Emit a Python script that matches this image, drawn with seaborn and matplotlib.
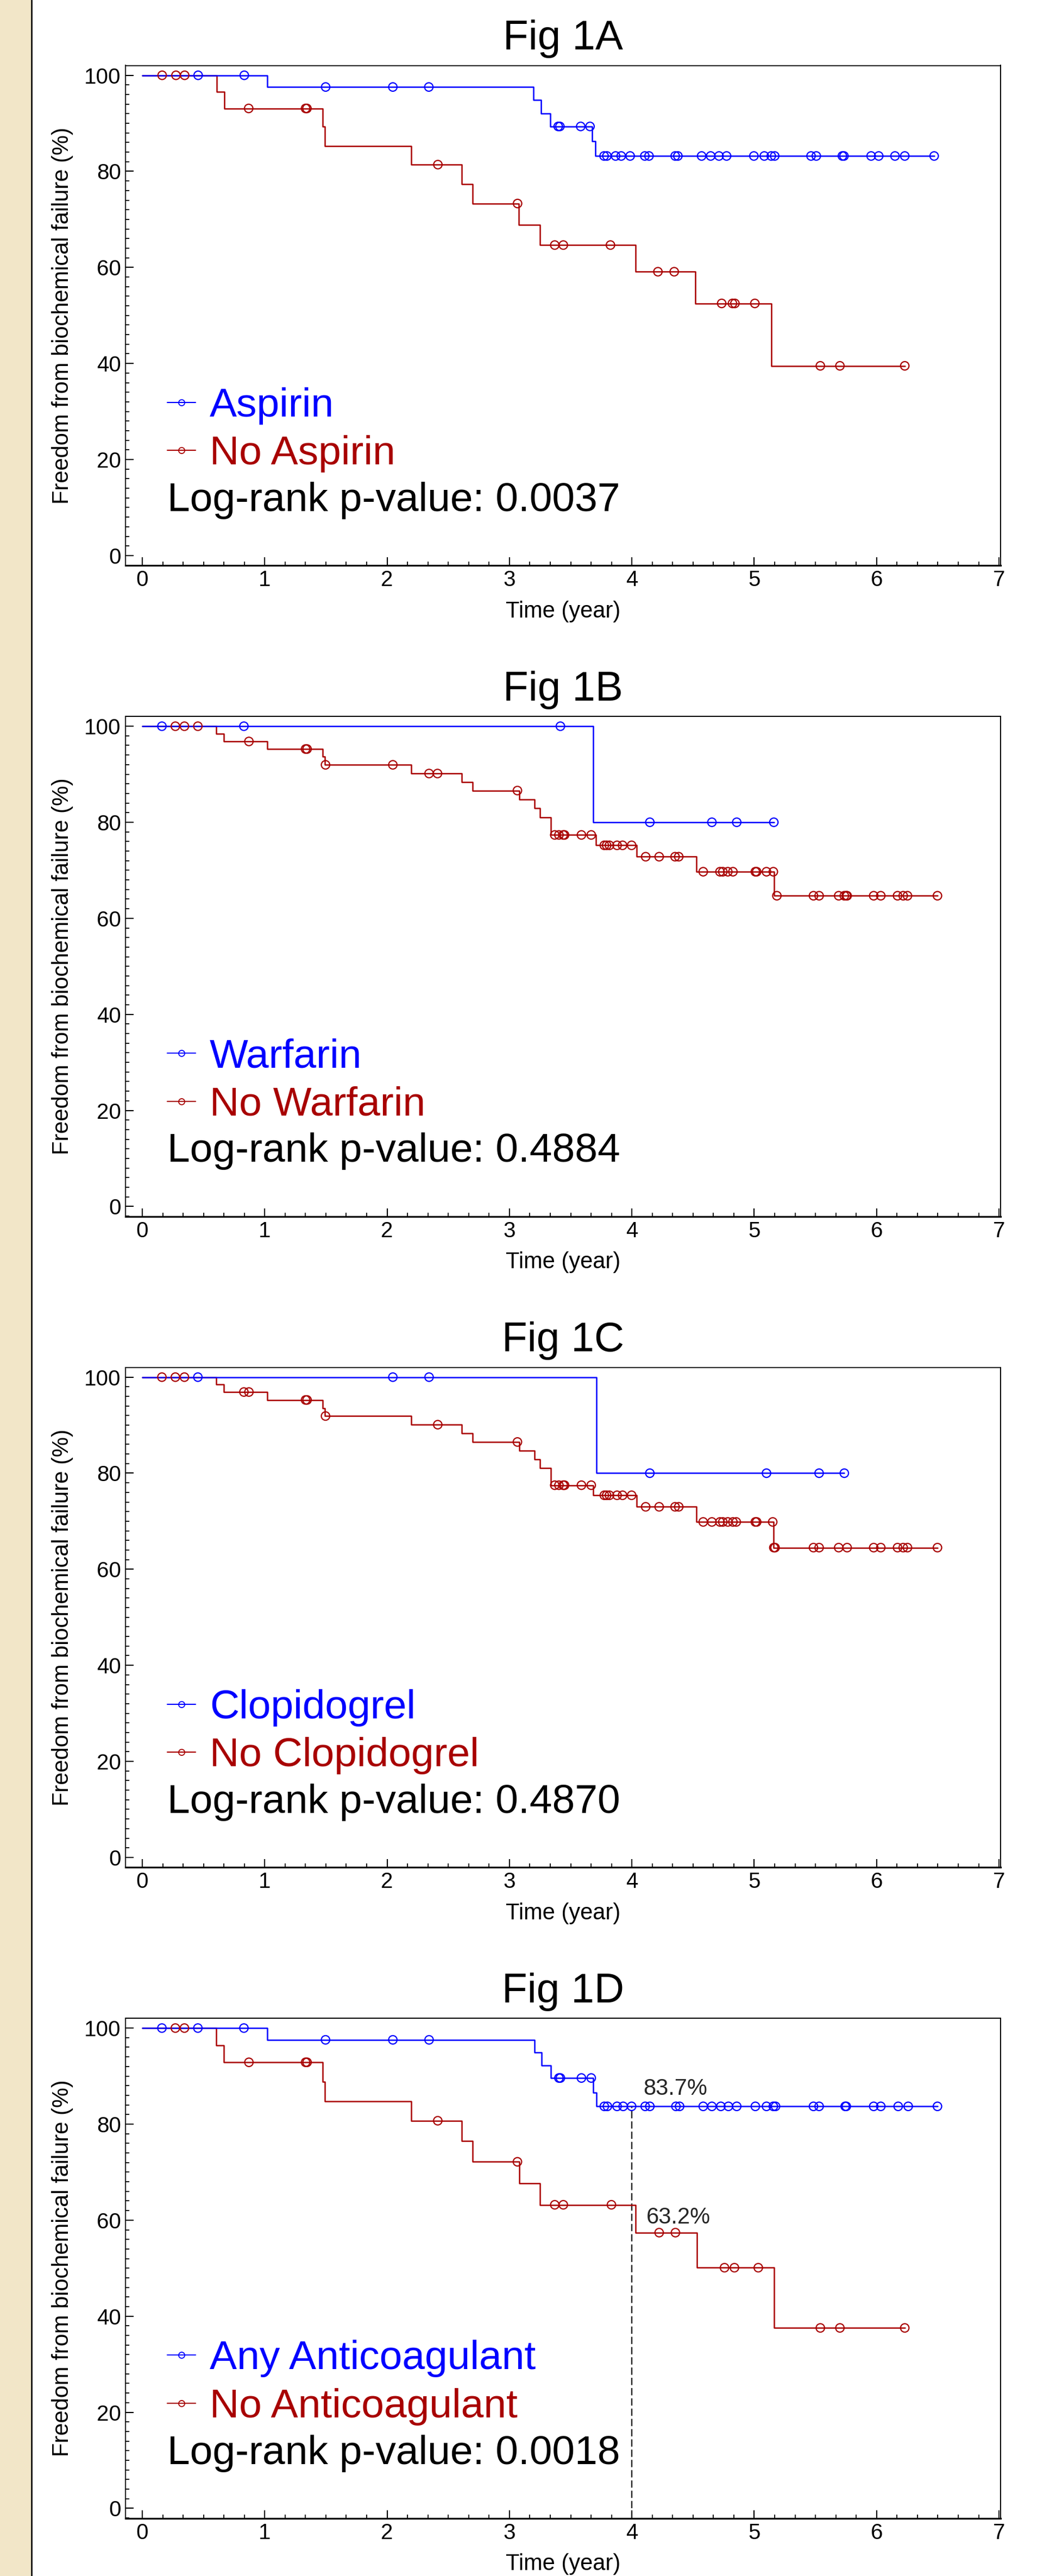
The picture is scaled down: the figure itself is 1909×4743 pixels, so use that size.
import numpy as np
import matplotlib.pyplot as plt
import seaborn as sns
from matplotlib.lines import Line2D
from matplotlib.patches import Rectangle
from matplotlib.ticker import MultipleLocator

# ----------------------------
# DATA
# time in years, freedom from failure in %
# ----------------------------
panel_titles = ["Fig 1A", "Fig 1B", "Fig 1C", "Fig 1D"]
group_labels = [("Aspirin", "No Aspirin"),
                ("Warfarin", "No Warfarin"),
                ("Clopidogrel", "No Clopidogrel"),
                ("Any Anticoagulant", "No Anticoagulant")]
p_values = ["0.0037", "0.4884", "0.4870", "0.0018"]

# Fig 1A
aspirin_event_t = [1.022, 3.196, 3.258, 3.335, 3.675, 3.700]
aspirin_event_s = [97.56, 94.87, 92.04, 89.35, 86.30, 83.20]
aspirin_censor_t = [0.456, 0.833, 1.498, 2.047, 2.341, 3.398, 3.412, 3.582, 3.658,
                    3.773, 3.796, 3.867, 3.913, 3.986, 4.106, 4.140, 4.354, 4.376,
                    4.570, 4.644, 4.712, 4.774, 4.997, 5.082, 5.139, 5.167, 5.464,
                    5.507, 5.720, 5.733, 5.955, 6.017, 6.150, 6.230, 6.470]
no_aspirin_event_t = [0.609, 0.671, 1.472, 1.492, 2.197, 2.610, 2.698, 3.077, 3.247,
                      4.032, 4.519, 5.142]
no_aspirin_event_s = [96.6, 93.1, 89.3, 85.3, 81.4, 77.3, 73.3, 68.9, 64.65,
                      59.1, 52.5, 39.5]
no_aspirin_censor_t = [0.162, 0.275, 0.346, 0.869, 1.334, 1.345, 2.415, 3.066, 3.370,
                       3.440, 3.825, 4.213, 4.346, 4.734, 4.822, 4.842, 5.005, 5.540,
                       5.700, 6.230]

# Fig 1B
warfarin_event_t = [3.684]
warfarin_event_s = [80.0]
warfarin_censor_t = [0.160, 0.830, 3.416, 4.147, 4.654, 4.857, 5.160]
no_warfarin_event_t = [0.603, 0.665, 1.023, 1.474, 1.490, 2.196, 2.609, 2.700, 3.079,
                       3.203, 3.251, 3.340, 3.707, 4.039, 4.527, 5.162]
no_warfarin_event_s = [98.45, 96.83, 95.25, 93.66, 91.96, 90.15, 88.34, 86.6, 84.75,
                       82.9, 81.0, 77.36, 75.2, 72.83, 69.7, 64.7]
no_warfarin_censor_t = [0.270, 0.344, 0.454, 0.871, 1.334, 1.346, 1.497, 2.047, 2.343,
                        2.412, 3.065, 3.370, 3.404, 3.439, 3.450, 3.588, 3.668, 3.775,
                        3.794, 3.817, 3.879, 3.924, 3.998, 4.113, 4.223, 4.353, 4.383,
                        4.583, 4.720, 4.743, 4.784, 4.826, 5.009, 5.020, 5.100, 5.156,
                        5.185, 5.484, 5.530, 5.690, 5.736, 5.752, 5.759, 5.976, 6.034,
                        6.171, 6.217, 6.252, 6.497]

# Fig 1C
clopidogrel_event_t = [3.711]
clopidogrel_event_s = [80.0]
clopidogrel_censor_t = [0.454, 2.047, 2.343, 4.147, 5.100, 5.530, 5.736]
no_clopidogrel_event_t = [0.603, 0.665, 1.023, 1.474, 1.490, 2.196, 2.609, 2.700, 3.079,
                          3.203, 3.251, 3.340, 3.684, 4.039, 4.527, 5.158]
no_clopidogrel_event_s = [98.45, 96.9, 95.25, 93.55, 91.9, 90.1, 88.3, 86.5, 84.7,
                          82.9, 81.1, 77.5, 75.4, 73.0, 69.85, 64.5]
no_clopidogrel_censor_t = [0.160, 0.270, 0.344, 0.830, 0.871, 1.334, 1.346, 1.497, 2.414,
                           3.065, 3.370, 3.404, 3.439, 3.450, 3.588, 3.668, 3.775, 3.794,
                           3.817, 3.879, 3.924, 3.998, 4.113, 4.223, 4.353, 4.383, 4.583,
                           4.654, 4.720, 4.743, 4.784, 4.826, 4.853, 5.009, 5.020, 5.151,
                           5.160, 5.170, 5.484, 5.530, 5.690, 5.759, 5.976, 6.034, 6.171,
                           6.217, 6.252, 6.497]

# Fig 1D
anticoag_event_t = [1.023, 3.203, 3.261, 3.340, 3.684, 3.711]
anticoag_event_s = [97.55, 94.87, 92.26, 89.6, 86.6, 83.7]
anticoag_censor_t = [0.160, 0.454, 0.830, 1.497, 2.047, 2.343, 3.404, 3.416, 3.588,
                     3.668, 3.775, 3.800, 3.879, 3.929, 3.998, 4.109, 4.147, 4.360,
                     4.390, 4.583, 4.654, 4.727, 4.789, 4.857, 5.009, 5.100, 5.156,
                     5.174, 5.484, 5.530, 5.743, 5.752, 5.976, 6.034, 6.176, 6.258,
                     6.497]
no_anticoag_event_t = [0.603, 0.665, 1.474, 1.490, 2.196, 2.609, 2.700, 3.079, 3.251,
                       4.032, 4.530, 5.162]
no_anticoag_event_s = [96.4, 92.87, 88.8, 84.7, 80.7, 76.5, 72.15, 67.7, 63.2,
                       57.4, 50.1, 37.56]
no_anticoag_censor_t = [0.270, 0.344, 0.871, 1.334, 1.346, 2.414, 3.065, 3.370, 3.440,
                        3.833, 4.223, 4.356, 4.757, 4.838, 5.033, 5.540, 5.700, 6.230]

# Fig 1D landmark at 4 years
landmark_time = 4.0
landmark_values = [83.7, 63.2]
landmark_labels = ["83.7%", "63.2%"]

events_t = [(aspirin_event_t, no_aspirin_event_t),
            (warfarin_event_t, no_warfarin_event_t),
            (clopidogrel_event_t, no_clopidogrel_event_t),
            (anticoag_event_t, no_anticoag_event_t)]
events_s = [(aspirin_event_s, no_aspirin_event_s),
            (warfarin_event_s, no_warfarin_event_s),
            (clopidogrel_event_s, no_clopidogrel_event_s),
            (anticoag_event_s, no_anticoag_event_s)]
censors_t = [(aspirin_censor_t, no_aspirin_censor_t),
             (warfarin_censor_t, no_warfarin_censor_t),
             (clopidogrel_censor_t, no_clopidogrel_censor_t),
             (anticoag_censor_t, no_anticoag_censor_t)]

# ----------------------------
# STYLE
# ----------------------------
sns.set_theme(style="ticks")
plt.rcParams["font.family"] = ["Liberation Sans", "DejaVu Sans"]

BLUE = "#0000FF"
RED = "#A80000"
colors = [BLUE, RED]
YLIM = (-2.05, 102.05)

W, H = 1909, 4743
fig = plt.figure(figsize=(W / 100, H / 100), dpi=100)
fig.patch.set_facecolor("white")

# beige strip with black edge at the left
fig.patches.append(Rectangle((0, 0), 56.7 / W, 1, transform=fig.transFigure,
                             color="#F2E6C8", zorder=0))
fig.add_artist(Line2D([58 / W, 58 / W], [0, 1], transform=fig.transFigure,
                      color="black", lw=1.9))


def km_steps(event_t, event_s, censor_t):
    t = np.concatenate([[0.0], event_t])
    s = np.concatenate([[100.0], event_s])
    t_end = max(max(censor_t), t[-1])
    line_t = np.append(t, t_end)
    line_s = np.append(s, s[-1])
    idx = np.searchsorted(t, censor_t, side="right") - 1
    return line_t, line_s, np.asarray(censor_t), s[idx]


ax_left, ax_w, ax_h = 231 / W, 1611 / W, 920.5 / H

for i in range(4):
    top_px = 120.5 + i * 1198.5
    ax = fig.add_axes([ax_left, 1 - (top_px + 920.5) / H, ax_w, ax_h])
    ax.set_facecolor("white")

    curves = []
    for g in range(2):
        curves.append(km_steps(events_t[i][g], events_s[i][g], censors_t[i][g]))

    # step lines (red underneath blue)
    for g in (1, 0):
        lt, ls, _, _ = curves[g]
        sns.lineplot(x=lt, y=ls, drawstyle="steps-post", estimator=None, sort=False,
                     color=colors[g], linewidth=1.8, ax=ax, zorder=3)
    # censor marks
    for g in (1, 0):
        _, _, ct, cs = curves[g]
        sns.scatterplot(x=ct, y=cs, marker="o", s=125, color=colors[g],
                        facecolor="none", edgecolor=colors[g], linewidth=1.6,
                        ax=ax, zorder=4)

    if i == 3:
        ax.vlines(landmark_time, YLIM[0], landmark_values[0], colors="black",
                  linestyles=(0, (6, 2.5)), linewidth=1.6, zorder=2)
        ax.annotate(landmark_labels[0], xy=(landmark_time, landmark_values[0]),
                    xytext=(15, 15.3), textcoords="offset points",
                    fontsize=30, ha="left", va="baseline")
        ax.annotate(landmark_labels[1], xy=(landmark_time, landmark_values[1]),
                    xytext=(19.3, -24.8), textcoords="offset points",
                    fontsize=30, ha="left", va="baseline")

    ax.set_xlim(-0.1376, 7.013)
    ax.set_ylim(*YLIM)
    ax.set_xticks(range(0, 8))
    ax.set_yticks(range(0, 101, 20))
    ax.xaxis.set_minor_locator(MultipleLocator(1 / 6))
    ax.yaxis.set_minor_locator(MultipleLocator(2))
    ax.tick_params(which="both", direction="in", top=False, right=False,
                   colors="black", labelsize=29, pad=6)
    ax.tick_params(which="major", length=11, width=1.5)
    ax.tick_params(which="minor", length=5.2, width=1.3)

    for side in ["left", "top", "right"]:
        ax.spines[side].set_color("black")
        ax.spines[side].set_linewidth(1.4)
    ax.spines["bottom"].set_color("black")
    ax.spines["bottom"].set_linewidth(2.3)

    ax.set_title(panel_titles[i], fontsize=55, pad=20.9, color="black")
    ax.set_xlabel("Time (year)", fontsize=30, color="black")
    ax.set_ylabel("Freedom from biochemical failure (%)", fontsize=30, color="black")
    ax.xaxis.set_label_coords(0.5, -0.0706)
    ax.yaxis.set_label_coords(-0.0596, 0.5)

    handles = [Line2D([], [], color=c, marker="o", markersize=8, mfc="none",
                      mec=c, mew=1.3, lw=1.5) for c in colors]
    ax.legend(handles, group_labels[i], loc="center left",
              bbox_to_anchor=(0.0478, 0.271), frameon=False, fontsize=54,
              labelcolor="linecolor", handlelength=0.69, handletextpad=0.35,
              labelspacing=0.26, borderpad=0, borderaxespad=0)
    ax.text(0.0478, 1 - 801 / 920.5, "Log-rank p-value: " + p_values[i],
            transform=ax.transAxes, fontsize=54, ha="left", va="center",
            color="black")

fig.savefig("out.png", dpi=100, facecolor="white")
